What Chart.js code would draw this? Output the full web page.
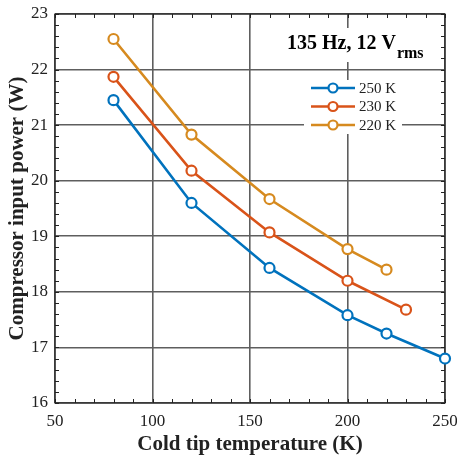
<!DOCTYPE html>
<html lang="en">
<head>
    <meta charset="UTF-8">
    <title>Compressor input power vs cold tip temperature</title>
    <script src="https://cdn.jsdelivr.net/npm/chart.js"></script>
    <style>
        html, body { margin: 0; padding: 0; background: #fff; }
        #wrap { width: 457px; height: 458px; }
    </style>
</head>
<body>
    <div id="wrap"><canvas id="powerChart" width="457" height="458"></canvas></div>

    <script>
        // data
        const seriesLabels = ['250 K', '230 K', '220 K'];
        const seriesColors = ['#0072BD', '#D95319', '#D68A1F'];

        const temp250 = [80, 120, 160, 200, 220, 250];
        const power250 = [21.45, 19.60, 18.43, 17.58, 17.25, 16.80];

        const temp230 = [80, 120, 160, 200, 230];
        const power230 = [21.87, 20.18, 19.07, 18.20, 17.68];

        const temp220 = [80, 120, 160, 200, 220];
        const power220 = [22.55, 20.83, 19.67, 18.77, 18.40];

        const xTicks = [50, 100, 150, 200, 250];
        const yTicks = [16, 17, 18, 19, 20, 21, 22, 23];

        const serif = "'Liberation Serif', 'DejaVu Serif', serif";

        function toPoints(xs, ys) {
            return xs.map((x, i) => ({ x: x, y: ys[i] }));
        }

        const allTemps = [temp250, temp230, temp220];
        const allPowers = [power250, power230, power220];

        const datasets = seriesLabels.map((label, i) => ({
            label: label,
            data: toPoints(allTemps[i], allPowers[i]),
            borderColor: seriesColors[i],
            backgroundColor: '#fff',
            pointBackgroundColor: '#fff',
            pointBorderColor: seriesColors[i],
            pointBorderWidth: 2.2,
            pointRadius: 5,
            borderWidth: 2.6,
            tension: 0,
            clip: false
        }));

        // inward minor ticks and the box on all four sides
        const boxTicks = {
            id: 'boxTicks',
            beforeDatasetsDraw(chart) {
                const ctx = chart.ctx;
                const a = chart.chartArea;
                const xs = chart.scales.x, ys = chart.scales.y;
                ctx.save();
                ctx.strokeStyle = '#222';
                ctx.lineWidth = 1;
                for (let v = 50; v <= 250; v += 10) {
                    const px = Math.round(xs.getPixelForValue(v)) + 0.5;
                    ctx.beginPath();
                    ctx.moveTo(px, a.bottom); ctx.lineTo(px, a.bottom - 4);
                    ctx.moveTo(px, a.top); ctx.lineTo(px, a.top + 4);
                    ctx.stroke();
                }
                for (let v = 16; v <= 23.001; v += 0.2) {
                    const py = Math.round(ys.getPixelForValue(v)) + 0.5;
                    ctx.beginPath();
                    ctx.moveTo(a.left, py); ctx.lineTo(a.left + 4, py);
                    ctx.moveTo(a.right, py); ctx.lineTo(a.right - 4, py);
                    ctx.stroke();
                }
                ctx.lineWidth = 1.2;
                ctx.strokeRect(a.left, a.top, a.right - a.left, a.bottom - a.top);
                ctx.restore();
            }
        };

        // annotation text and legend inside the plot
        const insideLegend = {
            id: 'insideLegend',
            afterDraw(chart) {
                const ctx = chart.ctx;
                ctx.save();

                // "135 Hz, 12 Vrms"
                ctx.font = 'bold 20px ' + serif;
                ctx.textBaseline = 'alphabetic';
                const main = '135 Hz, 12 V';
                const mw = ctx.measureText(main).width;
                ctx.font = 'bold 16px ' + serif;
                const sw = ctx.measureText('rms').width;
                const tx = 287;
                ctx.fillStyle = '#fff';
                ctx.fillRect(tx - 2, 28, mw + sw + 4, 34);
                ctx.fillStyle = '#000';
                ctx.font = 'bold 20px ' + serif;
                ctx.fillText(main, tx, 49);
                ctx.font = 'bold 16px ' + serif;
                ctx.fillText('rms', tx + mw + 1, 58);

                // legend
                const lx = 304, ly = 80;
                ctx.fillStyle = '#fff';
                ctx.fillRect(lx, ly, 98, 54);
                chart.data.datasets.forEach((ds, i) => {
                    const y = ly + 8 + i * 18.5;
                    ctx.strokeStyle = ds.borderColor;
                    ctx.lineWidth = 2.6;
                    ctx.beginPath();
                    ctx.moveTo(lx + 7, y); ctx.lineTo(lx + 51, y);
                    ctx.stroke();
                    ctx.fillStyle = '#fff';
                    ctx.lineWidth = 2.2;
                    ctx.beginPath();
                    ctx.arc(lx + 29, y, 4.5, 0, Math.PI * 2);
                    ctx.fill(); ctx.stroke();
                    ctx.fillStyle = '#222';
                    ctx.font = '15px ' + serif;
                    ctx.textBaseline = 'middle';
                    ctx.fillText(ds.label, lx + 55, y + 1);
                });
                ctx.restore();
            }
        };

        const ctx = document.getElementById('powerChart').getContext('2d');
        const powerChart = new Chart(ctx, {
            type: 'line',
            data: { datasets: datasets },
            plugins: [boxTicks, insideLegend],
            options: {
                responsive: false,
                animation: false,
                layout: { padding: 0 },
                plugins: {
                    legend: { display: false },
                    tooltip: { enabled: false }
                },
                scales: {
                    x: {
                        type: 'linear',
                        min: 50,
                        max: 250,
                        afterBuildTicks: (scale) => { scale.ticks = xTicks.map(v => ({ value: v })); },
                        afterFit: (scale) => {
                            scale.height = 55;
                            scale.paddingLeft = 0;
                            scale.paddingRight = 12;
                        },
                        grid: { color: '#5e5e5e', lineWidth: 1.6, drawTicks: false },
                        border: { display: false },
                        ticks: {
                            color: '#222',
                            padding: 8,
                            maxRotation: 0,
                            font: { family: serif, size: 17 }
                        },
                        title: {
                            display: true,
                            text: 'Cold tip temperature (K)',
                            color: '#222',
                            padding: { top: 0, bottom: 1 },
                            font: { family: serif, size: 21, weight: 'bold' }
                        }
                    },
                    y: {
                        type: 'linear',
                        min: 16,
                        max: 23,
                        afterBuildTicks: (scale) => { scale.ticks = yTicks.map(v => ({ value: v })); },
                        afterFit: (scale) => {
                            scale.width = 55;
                            scale.paddingTop = 14;
                            scale.paddingBottom = 0;
                        },
                        grid: { color: '#5e5e5e', lineWidth: 1.6, drawTicks: false },
                        border: { display: false },
                        ticks: {
                            color: '#222',
                            padding: 7,
                            font: { family: serif, size: 17 }
                        },
                        title: {
                            display: true,
                            text: 'Compressor input power (W)',
                            color: '#222',
                            padding: { top: 5, bottom: 0 },
                            font: { family: serif, size: 21, weight: 'bold' }
                        }
                    }
                }
            }
        });
    </script>
</body>
</html>
